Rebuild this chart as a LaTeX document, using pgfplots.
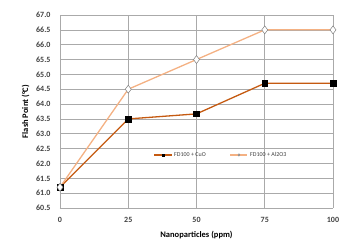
\documentclass[border=0pt]{standalone}
\usepackage{pgfplots}
\pgfplotsset{compat=1.18}
\usepackage{fontspec}
\setmainfont{Carlito}
\definecolor{cuo}{RGB}{197,90,17}
\definecolor{alo}{RGB}{244,177,131}
\definecolor{gridc}{RGB}{170,170,170}
\definecolor{txt}{RGB}{64,64,64}
\begin{document}
\begin{tikzpicture}
\useasboundingbox (-60pt,-33pt) rectangle (283pt,208pt);
\begin{axis}[
  at={(0pt,0pt)}, anchor=origin,
  scale only axis, width=273pt, height=193pt,
  xmin=0, xmax=100, ymin=60.5, ymax=67,
  xtick={0,25,50,75,100},
  ytick={60.5,61,...,67},
  /pgf/number format/assume math mode=true,
  tick label style={font=\fontsize{8}{9}\selectfont\bfseries, text=txt},
  yticklabel style={xshift=-6pt, /pgf/number format/.cd,fixed,fixed zerofill,precision=1},
  xticklabel style={yshift=-6pt},
  major tick length=0pt,
  grid=major,
  major grid style={gridc, line width=0.6pt},
  axis line style={gridc, line width=0.6pt},
  axis x line*=bottom, axis y line*=left,
  separate axis lines,
  xlabel={Nanoparticles (ppm)},
  ylabel={Flash Point (\textdegree C)},
  label style={font=\fontsize{8.5}{9}\selectfont\bfseries, text=black},
  xlabel style={yshift=-1pt},
  ylabel style={yshift=0pt},
  legend style={draw=none, fill=none, at={(0.59,0.275)}, anchor=center,
    font=\fontsize{6}{7}\selectfont, text=txt, legend columns=2,
    /tikz/every even column/.append style={column sep=22pt}},
  legend image post style={mark size=1.2pt},
  legend cell align=left,
  clip=false,
]
\addplot[cuo, line width=1.3pt, mark=square*, mark size=2.8pt,
  mark options={fill=black, draw=black, line width=0.4pt}]
  coordinates {(0,61.2) (25,63.5) (50,63.67) (75,64.7) (100,64.7)};
\addlegendentry{FD100 + CuO}
\addplot[alo, line width=1.3pt, mark=diamond*, mark size=4pt,
  mark options={fill=white, draw=gray, line width=0.5pt}]
  coordinates {(0,61.2) (25,64.5) (50,65.5) (75,66.5) (100,66.5)};
\addlegendentry{FD100 + Al2O3}
\end{axis}
\end{tikzpicture}
\end{document}
